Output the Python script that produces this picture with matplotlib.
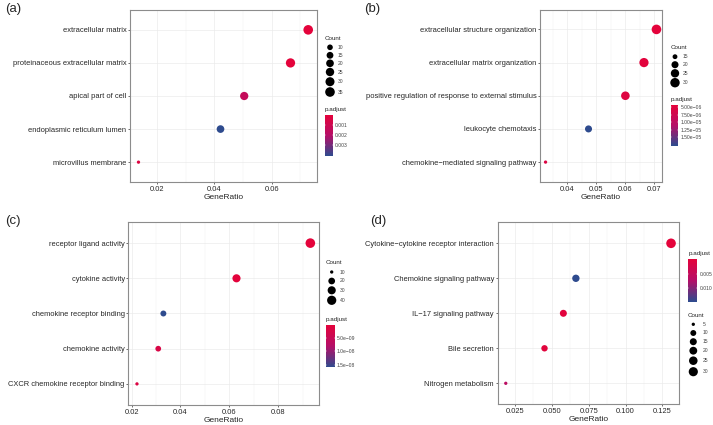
import numpy as np
import matplotlib
matplotlib.use("Agg")
import matplotlib.pyplot as plt
from matplotlib.colors import LinearSegmentedColormap, Normalize
from matplotlib.ticker import FixedLocator
import matplotlib.cm as cm

plt.rcParams['font.family'] = ['Liberation Sans', 'DejaVu Sans']

# ---------------- data ----------------
a_terms = ["extracellular matrix", "proteinaceous extracellular matrix", "apical part of cell",
           "endoplasmic reticulum lumen", "microvillus membrane"]
a_ratio = [0.0728, 0.0666, 0.0504, 0.0421, 0.0134]
a_count = [35, 32, 24, 20, 6]
a_padj = [2e-6, 3e-5, 1.4e-3, 4.1e-3, 3e-4]
a_xticks = [0.02, 0.04, 0.06]
a_xticklabels = ["0.02", "0.04", "0.06"]
a_count_breaks = [10, 15, 20, 25, 30, 35]
a_padj_ticks = [0.001, 0.002, 0.003]
a_padj_labels = ["0.001", "0.002", "0.003"]

b_terms = ["extracellular structure organization", "extracellular matrix organization",
           "positive regulation of response to external stimulus", "leukocyte chemotaxis",
           "chemokine\u2212mediated signaling pathway"]
b_ratio = [0.0707, 0.0664, 0.0600, 0.0473, 0.0325]
b_count = [31, 29, 26, 20, 14]
b_padj = [4.3e-6, 4.6e-6, 5.2e-6, 1.78e-5, 5.6e-6]
b_xticks = [0.04, 0.05, 0.06, 0.07]
b_xticklabels = ["0.04", "0.05", "0.06", "0.07"]
b_count_breaks = [15, 20, 25, 30]
b_padj_ticks = [5.0e-6, 7.5e-6, 1.0e-5, 1.25e-5, 1.5e-5]
b_padj_labels = ["5.00e\u221206", "7.50e\u221206", "1.00e\u221205", "1.25e\u221205", "1.50e\u221205"]

c_terms = ["receptor ligand activity", "cytokine activity", "chemokine receptor binding",
           "chemokine activity", "CXCR chemokine receptor binding"]
c_ratio = [0.0931, 0.0629, 0.0330, 0.0309, 0.0222]
c_count = [44, 30, 16, 15, 10]
c_padj = [4.5e-10, 6e-10, 1.57e-8, 2.4e-9, 1.8e-9]
c_xticks = [0.02, 0.04, 0.06, 0.08]
c_xticklabels = ["0.02", "0.04", "0.06", "0.08"]
c_count_breaks = [10, 20, 30, 40]
c_padj_ticks = [5e-9, 1e-8, 1.5e-8]
c_padj_labels = ["5.0e\u221209", "1.0e\u221208", "1.5e\u221208"]

d_terms = ["Cytokine\u2212cytokine receptor interaction", "Chemokine signaling pathway",
           "IL\u221217 signaling pathway", "Bile secretion", "Nitrogen metabolism"]
d_ratio = [0.1309, 0.0663, 0.0578, 0.0450, 0.0187]
d_count = [34, 17, 15, 12, 5]
d_padj = [1e-7, 0.0145, 3e-4, 4e-4, 0.0063]
d_xticks = [0.025, 0.050, 0.075, 0.100, 0.125]
d_xticklabels = ["0.025", "0.050", "0.075", "0.100", "0.125"]
d_count_breaks = [5, 10, 15, 20, 25, 30]
d_padj_ticks = [0.005, 0.010]
d_padj_labels = ["0.005", "0.010"]

# ---------------- style ----------------
W, H = 713, 425
DPI = 100
fig = plt.figure(figsize=(W / DPI, H / DPI), dpi=DPI)
cmap = LinearSegmentedColormap.from_list("rb", ["#E4033B", "#B50F68", "#2E4B8E"])
TXT = "#262626"
PX2PT = 72.0 / DPI


def rect(x0, y0, x1, y1):
    return [x0 / W, 1 - y1 / H, (x1 - x0) / W, (y1 - y0) / H]


def size_of(c, cmin, cmax, dmin=3.3, dmax=9.6):
    c = np.asarray(c, dtype=float)
    f = np.sqrt(np.clip((c - cmin) / (cmax - cmin), 0, None))
    d = dmin + (dmax - dmin) * f
    return (d * PX2PT) ** 2


ov = fig.add_axes([0, 0, 1, 1], zorder=5)
ov.set_xlim(0, W)
ov.set_ylim(H, 0)
ov.axis('off')
ov.patch.set_alpha(0)


def panel(label, lab_xy, box, terms, ratio, count, padj, xticks, xticklabels,
          count_breaks, count_pos, cbar_box, padj_ticks, padj_labels, padj_title_y,
          count_title_y, count_ys, count_x, count_label_x, xlabel_pad=1.0):
    ax = fig.add_axes(rect(*box))
    n = len(terms)
    y = np.arange(n)[::-1]
    norm = Normalize(vmin=min(padj), vmax=max(padj))
    cmin, cmax = min(count), max(count)
    ax.scatter(ratio, y, s=size_of(count, cmin, cmax), c=padj, cmap=cmap, norm=norm,
               edgecolors='none', zorder=3)
    lo, hi = min(ratio), max(ratio)
    span = hi - lo
    ax.set_xlim(lo - 0.05 * span, hi + 0.05 * span)
    ax.set_ylim(-0.6, n - 1 + 0.6)
    ax.set_yticks(y)
    ax.set_yticklabels(terms, fontsize=5.4, color=TXT)
    ax.set_xticks(xticks)
    ax.set_xticklabels(xticklabels, fontsize=5.4, color=TXT)
    step = xticks[1] - xticks[0]
    minors = np.arange(xticks[0] - step / 2, hi + step, step)
    ax.xaxis.set_minor_locator(FixedLocator(minors))
    ax.grid(True, which='major', color='#EBEBEB', linewidth=0.5, zorder=0)
    ax.grid(True, which='minor', axis='x', color='#F2F2F2', linewidth=0.35, zorder=0)
    ax.set_axisbelow(True)
    ax.tick_params(axis='both', which='major', length=1.6, width=0.5, color='#333333', pad=1.0)
    ax.tick_params(axis='x', which='minor', length=0)
    for sp in ax.spines.values():
        sp.set_color('#8C8C8C')
        sp.set_linewidth(0.8)
    ax.set_xlabel("GeneRatio", fontsize=6.0, color=TXT, labelpad=xlabel_pad)
    fig.text(lab_xy[0] / W, 1 - lab_xy[1] / H, label, fontsize=9.5, color=TXT,
             ha='left', va='center')

    # colour bar (low p-values at top, as in the reference)
    cax = fig.add_axes(rect(*cbar_box))
    sm = cm.ScalarMappable(norm=norm, cmap=cmap)
    cb = fig.colorbar(sm, cax=cax)
    cb.outline.set_visible(False)
    cax.invert_yaxis()
    cb.set_ticks(padj_ticks)
    cb.set_ticklabels(padj_labels)
    cax.tick_params(axis='y', direction='in', color='#F4F4F4', length=1.0, width=0.3,
                    left=True, right=True, labelsize=3.6, labelcolor='#444444', pad=1.5)
    ov.text(cbar_box[0], padj_title_y, "p.adjust", fontsize=4.5, color=TXT, ha='left', va='center')

    # size legend
    ov.text(count_pos, count_title_y, "Count", fontsize=4.5, color=TXT, ha='left', va='center')
    ov.scatter([count_x] * len(count_breaks), count_ys,
               s=size_of(count_breaks, cmin, cmax), color='black', edgecolors='none')
    for cb_v, yy in zip(count_breaks, count_ys):
        ov.text(count_label_x, yy, str(cb_v), fontsize=3.6, color='#444444', ha='left', va='center')
    return ax


panel("(a)", (5, 9), (130, 10, 316.7, 182), a_terms, a_ratio, a_count, a_padj,
      a_xticks, a_xticklabels, a_count_breaks, 325, (325, 115, 332.7, 156),
      a_padj_ticks, a_padj_labels, 109.5, 38.5,
      [47.3, 55.3, 63.3, 72.0, 81.7, 92.0], 330, 337.5)

panel("(b)", (364, 9), (540, 9.5, 662, 182), b_terms, b_ratio, b_count, b_padj,
      b_xticks, b_xticklabels, b_count_breaks, 670.5, (670.7, 105.3, 678.3, 145.7),
      b_padj_ticks, b_padj_labels, 99.7, 47.7,
      [56.7, 64.7, 73.3, 82.7], 675, 682.5)

panel("(c)", (5, 221.5), (128.3, 222, 319, 405), c_terms, c_ratio, c_count, c_padj,
      c_xticks, c_xticklabels, c_count_breaks, 326, (326, 325, 335, 367.3),
      c_padj_ticks, c_padj_labels, 319.3, 262.7,
      [272.0, 281.0, 290.3, 300.3], 331.7, 339.5)

panel("(d)", (370, 221.5), (497.5, 222.3, 679.3, 404.3), d_terms, d_ratio, d_count, d_padj,
      d_xticks, d_xticklabels, d_count_breaks, 688, (688.3, 259, 697.3, 301.7),
      d_padj_ticks, d_padj_labels, 253, 315.3,
      [324.3, 333.0, 341.7, 350.7, 360.7, 371.7], 693.3, 702.5)

fig.savefig("out.png", dpi=DPI)
